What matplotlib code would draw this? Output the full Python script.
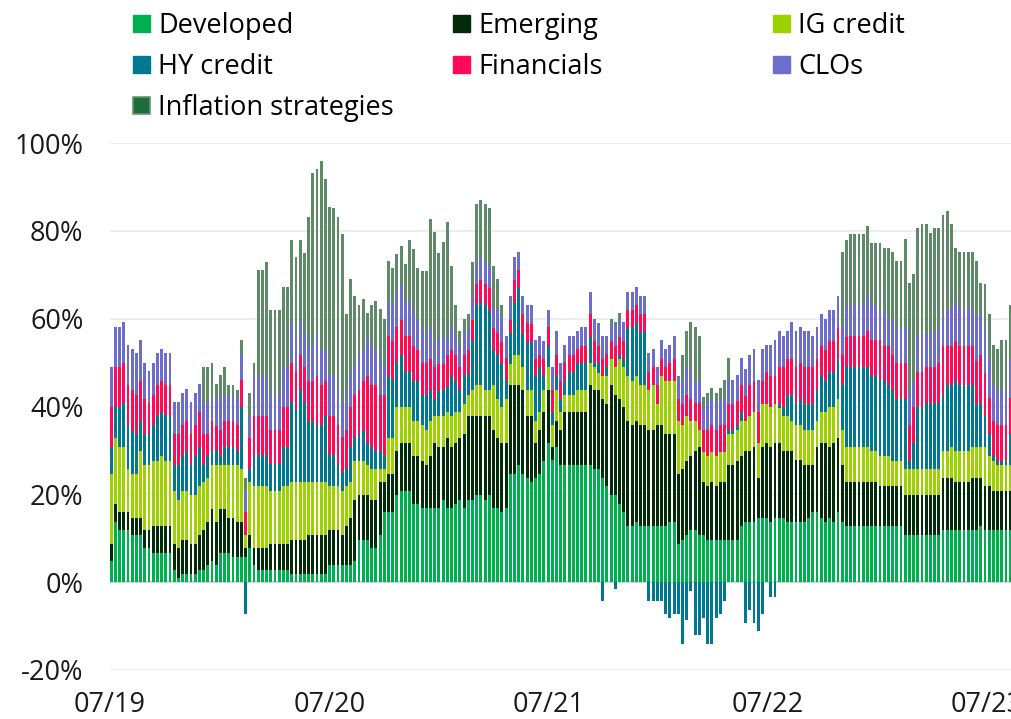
import numpy as np
import pandas as pd
import matplotlib
matplotlib.use("Agg")
import matplotlib.pyplot as plt
import matplotlib.dates as mdates
from matplotlib.patches import Patch

plt.rcParams['font.family'] = ['Open Sans', 'DejaVu Sans']

# weekly contributions, %
developed = [
    4.8, 13.7, 11.8, 11.8, 11.8, 10.7, 10.7, 10.7, 7.7, 7.7,
    6.7, 6.7, 6.7, 6.7, 6.7, 2.7, 0.9, 1.8, 1.8, 1.8,
    1.8, 2.7, 2.7, 3.8, 4.8, 3.8, 6.7, 6.7, 6.7, 5.7,
    5.7, 5.7, 5.7, 7.7, 3.8, 2.7, 2.7, 2.7, 2.7, 2.7,
    2.7, 2.7, 2.7, 1.8, 1.8, 1.8, 1.8, 1.8, 1.8, 1.8,
    1.8, 1.8, 3.8, 3.8, 3.8, 3.8, 3.8, 3.8, 4.9, 9.6,
    9.6, 9.6, 7.7, 7.7, 10.7, 15.9, 15.9, 15.9, 19.8, 20.8,
    20.8, 20.8, 17.9, 17.9, 16.9, 16.9, 16.9, 16.9, 16.9, 18.8,
    16.9, 16.9, 17.9, 18.8, 16.9, 18.8, 18.8, 19.8, 19.8, 18.8,
    19.8, 16.9, 16.9, 15.9, 16.9, 24.7, 24.7, 26.7, 24.7, 23.8,
    22.7, 23.8, 24.7, 27.7, 31.8, 27.8, 30.8, 26.7, 26.7, 26.7,
    26.7, 26.7, 26.7, 26.7, 26.7, 25.7, 25.7, 23.8, 21.8, 19.8,
    19.8, 17.9, 15.9, 12.8, 12.8, 13.7, 12.8, 12.8, 12.8, 12.8,
    12.8, 12.8, 12.8, 13.7, 13.7, 8.7, 9.6, 10.7, 11.8, 11.8,
    10.7, 10.7, 9.6, 9.6, 9.6, 9.6, 9.6, 9.6, 9.6, 9.6,
    12.8, 13.7, 13.7, 13.7, 14.7, 14.7, 14.7, 13.7, 14.7, 14.7,
    14.7, 13.7, 13.7, 13.7, 13.7, 13.7, 14.7, 15.9, 15.9, 14.7,
    13.7, 14.7, 13.7, 15.9, 13.7, 12.8, 12.8, 12.8, 12.8, 12.8,
    12.8, 12.8, 12.8, 12.8, 12.8, 12.8, 12.8, 12.8, 12.8, 10.7,
    10.7, 10.7, 10.7, 10.7, 10.7, 10.7, 10.7, 10.7, 11.8, 11.8,
    11.8, 11.8, 11.8, 11.8, 11.8, 11.8, 11.8, 12.8, 11.8, 11.8,
    11.8, 11.8, 11.8, 11.8, 11.8]
emerging = [
    3.9, 4.2, 4.1, 4.1, 4.1, 4.0, 4.0, 4.0, 4.1, 4.1,
    6.1, 6.1, 6.1, 6.1, 6.1, 6.0, 6.8, 7.8, 7.8, 6.9,
    6.9, 8.0, 9.1, 9.9, 11.9, 9.9, 10.0, 10.0, 8.0, 9.0,
    8.0, 8.0, 2.0, 3.0, 3.9, 5.0, 5.0, 5.0, 6.0, 6.0,
    6.0, 6.0, 6.0, 7.8, 7.8, 7.8, 7.8, 8.9, 8.9, 8.9,
    8.9, 8.9, 8.0, 8.0, 8.0, 7.0, 9.0, 10.9, 13.9, 10.2,
    10.2, 10.2, 11.1, 11.1, 12.0, 6.8, 8.8, 8.8, 10.0, 11.0,
    11.0, 11.0, 10.8, 10.8, 10.8, 9.8, 11.8, 14.9, 13.9, 12.0,
    15.9, 13.9, 13.9, 14.0, 16.8, 19.1, 19.1, 18.1, 18.1, 19.1,
    18.1, 17.8, 15.9, 15.9, 14.9, 20.1, 20.1, 18.1, 19.1, 14.1,
    15.2, 8.0, 10.0, 11.0, 12.0, 3.0, 5.9, 8.0, 12.0, 12.0,
    12.0, 12.0, 12.0, 12.0, 18.1, 18.1, 18.1, 18.0, 18.8, 25.0,
    22.9, 23.9, 23.9, 23.9, 22.9, 23.0, 22.9, 22.9, 21.9, 21.9,
    22.9, 22.9, 20.9, 20.0, 20.0, 16.0, 16.1, 17.0, 16.9, 18.0,
    20.1, 12.0, 12.2, 13.1, 12.2, 13.1, 13.1, 17.1, 17.1, 18.1,
    15.9, 16.1, 16.1, 17.1, 9.1, 16.1, 17.1, 17.1, 17.1, 17.1,
    15.1, 16.1, 16.1, 14.1, 14.1, 13.0, 12.0, 10.8, 14.9, 17.1,
    18.1, 16.1, 18.1, 16.9, 13.0, 9.9, 9.9, 9.9, 9.9, 9.9,
    9.9, 9.9, 9.9, 9.0, 9.0, 9.0, 9.0, 9.0, 9.0, 9.1,
    9.1, 9.1, 9.1, 9.1, 9.1, 9.1, 9.1, 9.1, 12.0, 12.0,
    12.0, 10.9, 10.9, 10.9, 10.9, 12.0, 12.0, 11.0, 10.0, 10.0,
    9.0, 9.0, 9.0, 9.0, 9.0]
ig_credit = [
    16.0, 14.9, 14.9, 14.9, 9.8, 10.0, 10.0, 15.1, 14.9, 14.9,
    14.9, 14.9, 15.9, 14.9, 14.9, 12.1, 11.1, 11.2, 11.2, 11.1,
    11.1, 11.1, 10.9, 10.1, 10.0, 13.0, 10.0, 10.0, 12.0, 12.0,
    13.0, 12.0, 3.1, 12.0, 14.1, 14.1, 14.1, 14.1, 12.1, 12.1,
    12.1, 13.1, 13.1, 13.1, 13.1, 13.1, 13.1, 12.0, 12.0, 12.0,
    12.0, 12.0, 10.0, 10.0, 10.0, 10.0, 9.0, 8.0, 8.9, 7.9,
    7.9, 6.9, 6.9, 6.9, 3.0, 3.0, 8.1, 8.1, 10.0, 8.0,
    8.0, 8.0, 8.0, 8.0, 8.0, 8.0, 8.0, 6.1, 7.1, 7.1,
    5.9, 7.1, 6.9, 5.9, 6.9, 4.8, 5.9, 6.9, 6.9, 5.9,
    5.9, 10.1, 9.0, 8.0, 10.0, 4.8, 7.0, 7.0, 5.1, 5.9,
    5.9, 4.9, 4.0, 5.1, 5.1, 4.9, 7.1, 4.0, 4.0, 4.0,
    4.0, 5.1, 5.1, 5.1, 5.1, 5.1, 3.9, 5.1, 6.3, 6.0,
    6.2, 9.0, 9.1, 10.2, 10.0, 10.2, 9.1, 9.1, 9.1, 10.1,
    4.9, 11.2, 12.0, 12.0, 12.0, 12.0, 10.0, 10.2, 8.0, 6.9,
    3.9, 6.9, 6.9, 6.9, 6.9, 6.9, 6.9, 7.0, 7.0, 7.0,
    8.0, 6.9, 8.1, 7.9, 8.0, 9.8, 8.8, 9.0, 8.8, 7.8,
    8.1, 8.1, 6.9, 8.0, 8.0, 8.0, 8.0, 8.0, 5.9, 6.9,
    6.9, 9.0, 8.0, 9.0, 8.0, 8.1, 8.1, 8.1, 8.1, 8.1,
    8.1, 7.1, 7.1, 6.9, 6.9, 6.9, 5.9, 5.9, 5.9, 5.9,
    5.9, 5.9, 5.9, 5.9, 5.9, 5.9, 5.9, 5.9, 6.0, 6.0,
    7.0, 7.1, 7.1, 7.1, 7.1, 7.0, 7.0, 7.0, 9.0, 6.9,
    6.9, 5.9, 5.9, 5.9, 5.9]
hy_credit = [
    6.1, 7.0, 9.0, 10.0, 10.1, 10.0, 9.0, 6.9, 7.0, 7.0,
    8.1, 10.2, 10.0, 10.2, 10.2, 5.9, 7.9, 7.9, 9.0, 6.9,
    8.9, 9.0, 4.0, 4.9, 3.1, 3.3, 2.0, 4.1, 4.1, 4.1,
    3.1, 14.3, -7.2, 3.0, 6.9, 7.2, 7.2, 7.2, 6.2, 6.2,
    6.2, 9.0, 9.0, 18.3, 16.7, 21.1, 18.3, 14.0, 14.0, 13.1,
    13.1, 15.2, 7.1, 7.1, 4.9, 4.2, 3.9, 8.1, 5.1, 6.0,
    7.0, 5.1, 5.1, 4.1, 4.1, 3.0, 14.2, 13.2, 10.2, 12.0,
    8.0, 8.0, 9.0, 9.0, 7.0, 8.0, 7.1, 3.9, 5.9, 5.9,
    6.0, 9.0, 7.0, 5.1, 6.3, 5.0, 11.1, 18.3, 19.1, 19.3,
    18.0, 8.0, 10.0, 9.8, 4.2, 7.1, 12.1, 15.1, 7.8, 10.9,
    10.9, 10.2, 10.2, 3.2, 4.9, 3.0, 3.1, 3.1, 3.0, 5.1,
    5.1, 6.1, 6.1, 6.1, 5.9, 1.0, 2.2, -4.3, 2.0, 0.0,
    -1.5, 1.0, 1.9, 10.9, 12.1, 12.1, 12.1, 12.1, -4.3, -4.3,
    -4.3, -4.3, -7.2, -8.2, -7.2, -7.2, -14.0, -8.7, -1.9, -12.0,
    -12.0, -8.2, -14.0, -14.0, -8.2, -7.2, -4.3, 1.0, 1.0, 1.0,
    2.0, -9.2, -6.3, -9.2, -11.2, -7.2, 0.0, -3.3, -3.3, 1.0,
    1.7, 4.8, 6.0, 4.8, 6.0, 5.9, 5.9, 5.9, 7.1, 8.2,
    7.0, 8.0, 8.0, 9.0, 10.1, 18.1, 18.1, 18.1, 18.1, 18.1,
    18.1, 17.2, 17.2, 17.3, 17.3, 16.1, 16.1, 14.1, 14.1, 16.1,
    2.0, 6.1, 14.1, 14.1, 15.1, 15.1, 15.1, 15.1, 12.9, 15.0,
    14.0, 15.9, 15.0, 15.0, 15.0, 14.0, 9.6, 10.0, 7.1, 5.0,
    1.0, 1.0, 1.0, 1.0, 7.0]
financials = [
    9.0, 9.1, 9.1, 9.0, 9.0, 9.1, 9.0, 9.2, 8.1, 7.1,
    6.9, 6.9, 7.2, 6.9, 6.9, 7.0, 7.0, 7.1, 6.9, 7.0,
    7.1, 7.9, 7.0, 5.0, 6.9, 5.5, 6.0, 5.9, 5.9, 5.9,
    6.0, 6.0, 5.1, 7.1, 9.2, 8.9, 8.9, 8.9, 7.7, 7.7,
    7.7, 9.0, 9.0, 9.0, 8.7, 8.0, 8.0, 9.2, 9.2, 11.1,
    9.0, 8.0, 9.0, 9.0, 9.1, 8.0, 9.0, 9.0, 9.9, 10.1,
    11.0, 15.1, 14.0, 15.0, 12.9, 14.0, 9.0, 9.0, 8.0, 8.0,
    8.2, 8.2, 8.1, 7.1, 7.2, 7.2, 7.0, 7.1, 5.8, 5.8,
    7.1, 5.9, 6.1, 5.1, 4.9, 5.1, 4.9, 4.8, 5.0, 4.8,
    5.1, 5.1, 4.9, 5.1, 5.0, 3.1, 5.0, 4.1, 4.3, 4.3,
    4.1, 3.9, 2.9, 3.8, 4.2, 5.1, 4.9, 3.9, 4.2, 4.0,
    4.0, 3.1, 3.9, 3.9, 5.2, 5.0, 3.9, 3.9, 3.0, 4.1,
    4.9, 4.0, 4.1, 4.2, 4.2, 4.1, 4.1, 4.1, 4.0, 4.1,
    4.2, 3.9, 3.2, 4.2, 5.1, 5.1, 4.9, 4.8, 5.1, 4.1,
    6.1, 5.1, 6.0, 6.1, 6.0, 6.1, 6.1, 5.9, 5.9, 5.5,
    6.1, 5.7, 6.9, 7.0, 6.9, 5.1, 7.2, 7.1, 6.3, 8.3,
    9.3, 8.1, 8.1, 8.3, 8.1, 8.3, 8.3, 8.3, 7.0, 6.9,
    7.1, 7.1, 7.1, 7.1, 7.0, 6.9, 7.1, 7.1, 7.1, 7.1,
    8.2, 8.1, 8.1, 9.1, 7.8, 9.0, 8.0, 8.1, 8.1, 8.1,
    8.2, 8.0, 8.0, 8.0, 8.1, 8.1, 8.1, 9.1, 11.1, 9.0,
    9.0, 9.2, 9.0, 9.0, 9.0, 9.0, 10.0, 11.0, 9.8, 8.3,
    8.0, 8.1, 8.1, 8.1, 8.3]
clos = [
    9.3, 9.2, 9.2, 9.4, 9.3, 9.4, 9.5, 9.2, 8.2, 7.3,
    7.3, 7.4, 7.3, 7.4, 7.4, 7.3, 7.3, 7.2, 7.3, 7.3,
    7.2, 6.5, 7.1, 7.1, 6.0, 6.5, 8.0, 6.0, 6.0, 6.0,
    6.0, 6.0, 4.9, 5.2, 9.0, 9.0, 9.0, 9.0, 7.9, 7.9,
    7.9, 9.1, 9.1, 9.0, 7.7, 8.0, 7.7, 8.2, 8.2, 9.8,
    8.0, 7.3, 9.0, 9.0, 8.2, 8.0, 9.1, 7.2, 6.2, 8.0,
    7.1, 8.9, 9.0, 8.0, 8.1, 6.2, 8.0, 8.0, 8.0, 7.9,
    7.9, 7.9, 8.0, 7.0, 7.9, 6.8, 7.0, 5.8, 5.9, 5.9,
    3.7, 5.0, 3.7, 4.6, 4.9, 5.0, 5.1, 5.1, 5.1, 5.1,
    5.1, 4.5, 5.5, 5.5, 5.1, 5.3, 5.2, 4.1, 4.1, 4.1,
    4.3, 4.3, 4.3, 4.1, 4.0, 5.3, 5.3, 4.3, 4.2, 4.3,
    4.3, 4.1, 4.3, 4.3, 5.1, 5.1, 5.2, 5.3, 4.2, 4.1,
    4.1, 4.0, 4.3, 4.1, 4.1, 4.0, 4.1, 4.1, 4.4, 4.3,
    4.1, 4.3, 4.3, 4.2, 5.3, 5.1, 5.1, 6.2, 7.1, 4.9,
    4.9, 5.1, 6.1, 6.1, 6.1, 6.1, 6.1, 5.9, 5.5, 5.9,
    6.3, 6.1, 7.0, 7.5, 7.3, 7.5, 6.3, 7.2, 8.2, 8.2,
    7.1, 6.3, 8.4, 8.2, 8.2, 8.2, 8.2, 7.2, 7.3, 7.2,
    7.2, 7.1, 7.1, 7.2, 6.8, 7.0, 7.1, 7.1, 7.1, 7.1,
    8.0, 8.0, 8.0, 6.7, 8.0, 6.0, 8.0, 7.9, 7.9, 7.9,
    7.9, 5.9, 8.0, 8.9, 7.8, 7.8, 7.8, 8.1, 6.8, 8.6,
    8.6, 9.0, 8.6, 8.6, 8.6, 8.6, 10.2, 9.2, 10.1, 8.8,
    8.1, 8.0, 8.0, 8.0, 9.0]
inflation = [
    0, 0, 0, 0, 0, 0, 0, 0, 0, 0,
    0, 0, 0, 0, 0, 0, 0, 0, 0, 0,
    0, 0, 8.3, 8.3, 7.3, 3.2, 4.5, 6.4, 2.1, 2.1,
    2.0, 3.1, 3.0, 5.1, 3.1, 24.1, 24.1, 26.1, 19.4, 19.4,
    19.4, 18.2, 18.2, 19.0, 18.2, 18.2, 18.3, 29.1, 39.1, 37.3,
    43.0, 38.6, 38.6, 38.2, 39.2, 38.3, 17.2, 22.0, 16.2, 11.3,
    11.6, 5.6, 9.3, 11.2, 11.4, 11.1, 9.2, 8.6, 8.7, 8.8,
    8.6, 14.1, 14.0, 11.8, 13.0, 14.1, 24.9, 25.1, 19.5, 22.0,
    26.5, 14.2, 7.5, 3.6, 3.3, 3.2, 8.1, 13.1, 13.1, 13.1,
    13.1, 9.6, 6.8, 2.8, 0, 0, 0, 0, 0, 0,
    0, 0, 0, 0, 0, 0, 0, 0, 0, 0,
    0, 0, 0, 0, 0, 0, 0, 0, 0, 1.0,
    1.3, 1.4, 0, 0, 0, 0, 0, 0, 0, 0,
    0, 0, 0, 0, 0, 0, 6.1, 8.2, 10.3, 12.4,
    10.3, 2.4, 2.2, 2.4, 2.2, 2.4, 4.3, 4.5, 0, 0,
    0, 0, 0, 0, 0, 0, 0, 0, 0, 0,
    0, 0, 0, 0, 0, 0, 0, 0, 0, 0,
    0, 0, 0, 0, 16.5, 15.2, 16.2, 16.2, 16.2, 16.2,
    16.1, 14.2, 14.2, 15.5, 14.4, 16.4, 15.3, 15.4, 15.4, 20.3,
    24.4, 24.5, 24.8, 24.8, 24.8, 22.7, 23.9, 22.6, 22.9, 22.1,
    19.1, 12.3, 12.7, 12.7, 12.7, 12.7, 12.6, 7.2, 10.2, 10.2,
    9.3, 9.2, 11.3, 11.3, 12.1]

labels = ['Developed', 'Emerging', 'IG credit', 'HY credit',
          'Financials', 'CLOs', 'Inflation strategies']
colors = ['#00b050', '#032b0a', '#9ed100', '#00788f',
          '#ff0a57', '#6d6dcc', '#5f8a68']
series = [developed, emerging, ig_credit, hy_credit, financials, clos, inflation]

dates = pd.date_range('2019-07-03', periods=len(developed), freq='7D')

fig = plt.figure(figsize=(10.12, 7.19), dpi=100)
ax = fig.add_axes([110/1012, 1 - 670/719, 1 - 110/1012, (670 - 143)/719])

pos_base = np.zeros(len(dates))
neg_base = np.zeros(len(dates))
for vals, col in zip(series, colors):
    v = np.array(vals, dtype=float)
    base = np.where(v >= 0, pos_base, neg_base)
    ax.bar(dates, v, bottom=base, width=4.8, color=col, linewidth=0, zorder=3)
    pos_base += np.where(v > 0, v, 0)
    neg_base += np.where(v < 0, v, 0)

ax.set_ylim(-20, 100)
ax.set_yticks([-20, 0, 20, 40, 60, 80, 100])
ax.set_yticklabels(['-20%', '0%', '20%', '40%', '60%', '80%', '100%'])
ax.set_xlim(pd.Timestamp('2019-07-01'), pd.Timestamp('2023-08-12'))
ax.set_xticks(pd.to_datetime(['2019-07-01', '2020-07-01', '2021-07-01',
                              '2022-07-01', '2023-07-01']))
ax.xaxis.set_major_formatter(mdates.DateFormatter('%m/%y'))

ax.grid(axis='y', color='#ececec', linewidth=1.3, zorder=0)
ax.axhline(0, color='#d4d4d4', linewidth=1.6, zorder=2)
for s in ax.spines.values():
    s.set_visible(False)
ax.tick_params(axis='both', length=0, labelsize=19.5, colors='#1a1a1a')
ax.tick_params(axis='y', pad=19)
ax.tick_params(axis='x', pad=15)

# legend laid out in three fixed columns, as in the reference
handles = [Patch(facecolor=c, edgecolor=c, label=l) for c, l in zip(colors, labels)]
handles[6] = Patch(facecolor='#1e6e3c', edgecolor='#6a9472', linewidth=1.2,
                   label=labels[6])
cols = [([0, 3, 6], 133), ([1, 4], 453), ([2, 5], 773)]
for idx, xpix in cols:
    fig.legend(handles=[handles[i] for i in idx], loc='upper left',
               bbox_to_anchor=(xpix/1012, 1 - 12/719), frameon=False,
               fontsize=19.5, handlelength=0.63, handleheight=0.63,
               handletextpad=0.3, labelspacing=0.48, borderpad=0,
               borderaxespad=0)

fig.savefig('out.png', dpi=100)
